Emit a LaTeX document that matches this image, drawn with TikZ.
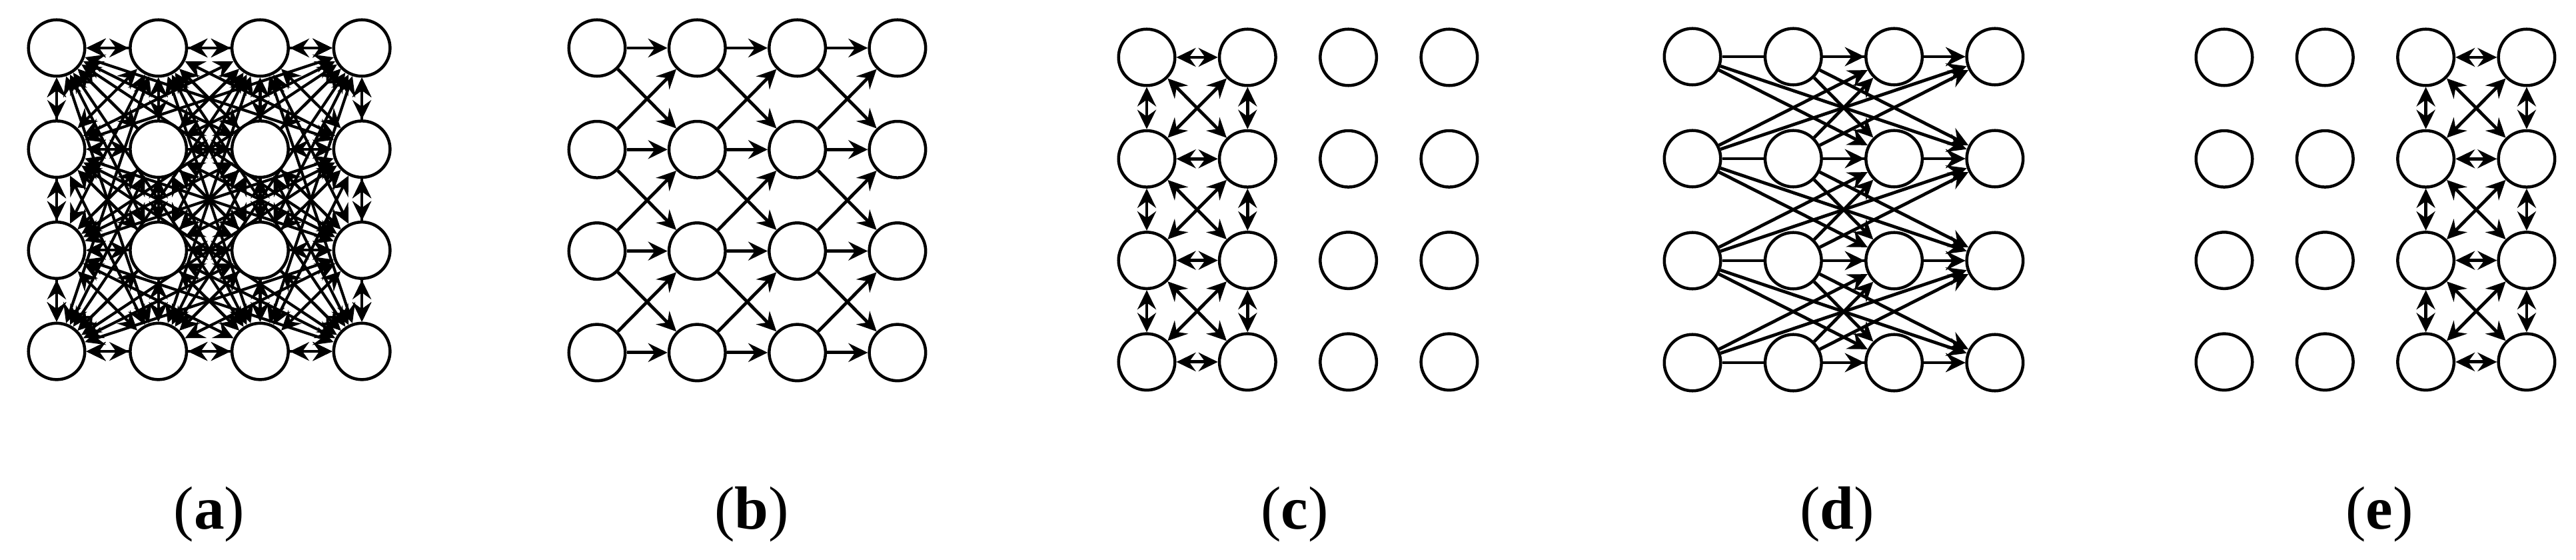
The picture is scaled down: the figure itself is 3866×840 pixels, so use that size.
\documentclass[tikz,border=0pt]{standalone}
\usepackage{fontspec}
\setmainfont{Liberation Serif}
\usetikzlibrary{arrows.meta}
\pgfdeclarelayer{bg}
\pgfsetlayers{bg,main}
\tikzset{
  nd/.style={circle, draw=black, line width=0.045cm, fill=white, minimum size=0.845cm, inner sep=0pt},
  tip/.tip={Stealth[length=0.29cm, width=0.28cm, inset=0.1cm]},
  one/.style={line width=0.048cm, -tip},
  two/.style={line width=0.048cm, tip-tip},
  twoa/.style={line width=0.042cm, tip-tip},
  lab/.style={anchor=base, inner sep=0pt, font=\fontsize{26}{30}\selectfont}
}
\begin{document}
\begin{tikzpicture}[x=0.01cm, y=-0.01cm]
\useasboundingbox (0,0) rectangle (3866,840);
% ---------- panel (a): fully connected ----------
\foreach \n in {0,...,15} {
  \pgfmathtruncatemacro\r{div(\n,4)}
  \pgfmathtruncatemacro\c{mod(\n,4)}
  \node[nd] (a\n) at ({85+152.7*\c},{72+151.7*\r}) {};
}
\begin{pgfonlayer}{bg}
\foreach \i in {0,...,14} {
  \pgfmathtruncatemacro\ia{\i+1}
  \foreach \j in {\ia,...,15} {
    \draw[twoa] (a\i) -- (a\j);
  }
}
\end{pgfonlayer}
% ---------- panel (b) ----------
\foreach \r in {0,...,3} {
  \foreach \c in {0,...,3} {
    \node[nd] (b\r\c) at ({896+150.3*\c},{72+152.3*\r}) {};
  }
}
\begin{pgfonlayer}{bg}
\foreach \c in {0,1,2} {
  \pgfmathtruncatemacro\d{\c+1}
  \foreach \r in {0,...,3} { \draw[one] (b\r\c) -- (b\r\d); }
  \foreach \r/\s in {0/1,1/2,2/3} {
    \draw[one] (b\r\c) -- (b\s\d);
    \draw[one] (b\s\c) -- (b\r\d);
  }
}
\end{pgfonlayer}
% ---------- panel (c) ----------
\foreach \r in {0,...,3} {
  \foreach \c in {0,...,3} {
    \node[nd] (c\r\c) at ({1721+151.3*\c},{86+152.3*\r}) {};
  }
}
\begin{pgfonlayer}{bg}
\foreach \r in {0,...,3} { \draw[two] (c\r0) -- (c\r1); }
\foreach \r/\s in {0/1,1/2,2/3} {
  \draw[two] (c\r0) -- (c\s0);
  \draw[two] (c\r1) -- (c\s1);
  \draw[two] (c\r0) -- (c\s1);
  \draw[two] (c\r1) -- (c\s0);
}
\end{pgfonlayer}
% ---------- panel (d) ----------
\foreach \r in {0,...,3} {
  \foreach \c in {0,...,3} {
    \node[nd] (d\r\c) at ({2540+151.3*\c},{85+153*\r}) {};
  }
}
\begin{pgfonlayer}{bg}
\foreach \a in {0,1} {
  \foreach \b in {2,3} {
    \foreach \r in {0,...,3} { \draw[one] (d\r\a) -- (d\r\b); }
    \foreach \r/\s in {0/1,1/2,2/3} {
      \draw[one] (d\r\a) -- (d\s\b);
      \draw[one] (d\s\a) -- (d\r\b);
    }
  }
}
\end{pgfonlayer}
% ---------- panel (e) ----------
\foreach \r in {0,...,3} {
  \foreach \c in {0,...,3} {
    \node[nd] (e\r\c) at ({3338+151.3*\c},{86+152.3*\r}) {};
  }
}
\begin{pgfonlayer}{bg}
\foreach \r in {0,...,3} { \draw[two] (e\r2) -- (e\r3); }
\foreach \r/\s in {0/1,1/2,2/3} {
  \draw[two] (e\r2) -- (e\s2);
  \draw[two] (e\r3) -- (e\s3);
  \draw[two] (e\r2) -- (e\s3);
  \draw[two] (e\r3) -- (e\s2);
}
\end{pgfonlayer}
% ---------- labels ----------
\node[lab] (la) at (314,793) {(\textbf{a})};
\node[lab] (lb) at (1128,793) {(\textbf{b})};
\node[lab] (lc) at (1943,793) {(\textbf{c})};
\node[lab] (ld) at (2757,793) {(\textbf{d})};
\node[lab] (le) at (3571,793) {(\textbf{e})};
\end{tikzpicture}
\end{document}
